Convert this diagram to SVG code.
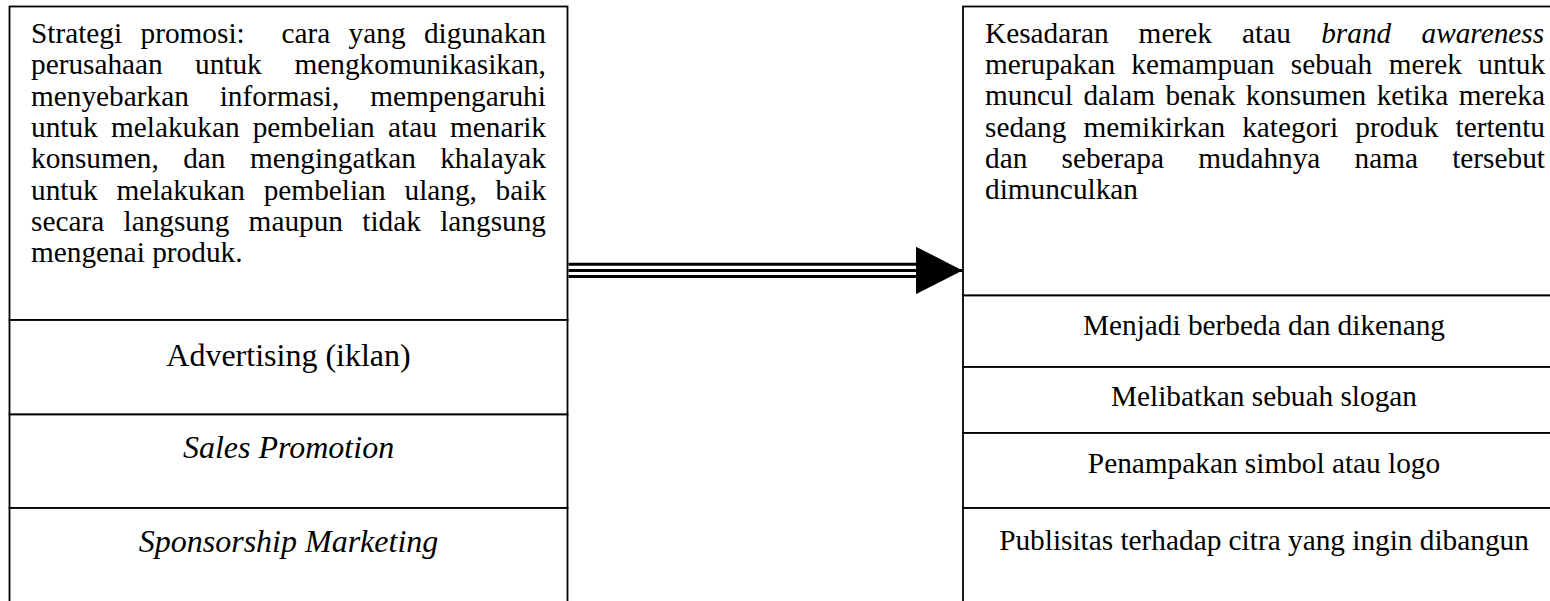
<svg xmlns="http://www.w3.org/2000/svg" width="1550" height="601" viewBox="0 0 1550 601">
  <style>
    .cell { fill: #ffffff; stroke: #000000; stroke-width: 1.8; }
    .body { font-family: "Liberation Serif", "Times New Roman", serif; font-size: 29.3px; fill: #000000; }
    .lbl { font-family: "Liberation Serif", "Times New Roman", serif; font-size: 32px; fill: #000000; text-anchor: middle; }
    .lblr { font-family: "Liberation Serif", "Times New Roman", serif; font-size: 29.3px; fill: #000000; text-anchor: middle; }
    .it { font-style: italic; }
    .conn { stroke: #000000; stroke-width: 3; fill: none; }
  </style>
  <defs>
    <marker id="head" viewBox="0 0 47 48" refX="47" refY="24" markerWidth="47" markerHeight="48" markerUnits="userSpaceOnUse" orient="auto">
      <polygon points="0,0 47,24 0,48" fill="#000000"/>
    </marker>
  </defs>
  <rect x="0" y="0" width="1550" height="601" fill="#ffffff"/>

  <g id="strategi-promosi">
    <rect class="cell" x="9.5" y="6.5" width="558" height="313.5"/>
    <text class="body" y="43"><tspan x="31">Strategi</tspan><tspan x="140.5">promosi:</tspan><tspan x="281.4">cara</tspan><tspan x="348.6">yang</tspan><tspan x="423.9">digunakan</tspan></text>
    <text class="body" y="74.3"><tspan x="31">perusahaan</tspan><tspan x="195">untuk</tspan><tspan x="294.5">mengkomunikasikan,</tspan></text>
    <text class="body" y="105.6"><tspan x="31">menyebarkan</tspan><tspan x="219.7">informasi,</tspan><tspan x="370.2">mempengaruhi</tspan></text>
    <text class="body" y="136.9"><tspan x="31">untuk</tspan><tspan x="111">melakukan</tspan><tspan x="252.7">pembelian</tspan><tspan x="388">atau</tspan><tspan x="450">menarik</tspan></text>
    <text class="body" y="168.2"><tspan x="31">konsumen,</tspan><tspan x="183.2">dan</tspan><tspan x="249.9">mengingatkan</tspan><tspan x="440.2">khalayak</tspan></text>
    <text class="body" y="199.5"><tspan x="31">untuk</tspan><tspan x="116.4">melakukan</tspan><tspan x="263.7">pembelian</tspan><tspan x="404.5">ulang,</tspan><tspan x="495.6">baik</tspan></text>
    <text class="body" y="230.8"><tspan x="31">secara</tspan><tspan x="123.5">langsung</tspan><tspan x="248.6">maupun</tspan><tspan x="362.3">tidak</tspan><tspan x="440.2">langsung</tspan></text>
    <text class="body" x="31" y="262.1">mengenai produk.</text>
  </g>

  <g id="advertising">
    <rect class="cell" x="9.5" y="320" width="558" height="94.5"/>
    <text class="lbl" x="288.5" y="366">Advertising (iklan)</text>
  </g>

  <g id="sales-promotion">
    <rect class="cell" x="9.5" y="414.5" width="558" height="93.5"/>
    <text class="lbl it" x="288.5" y="458">Sales Promotion</text>
  </g>

  <g id="sponsorship-marketing">
    <rect class="cell" x="9.5" y="508" width="558" height="103"/>
    <text class="lbl it" x="288.5" y="552">Sponsorship Marketing</text>
  </g>

  <g id="brand-awareness">
    <rect class="cell" x="963" y="6.5" width="610" height="289"/>
    <text class="body" y="43"><tspan x="985">Kesadaran</tspan><tspan x="1138.6">merek</tspan><tspan x="1242">atau</tspan><tspan x="1321.2" class="it">brand</tspan><tspan x="1421.5" class="it">awareness</tspan></text>
    <text class="body" y="74.2"><tspan x="985">merupakan</tspan><tspan x="1131.3">kemampuan</tspan><tspan x="1290.8">sebuah</tspan><tspan x="1388.7">merek</tspan><tspan x="1478.3">untuk</tspan></text>
    <text class="body" y="105.4"><tspan x="985">muncul</tspan><tspan x="1083.4">dalam</tspan><tspan x="1165.4">benak</tspan><tspan x="1245.8">konsumen</tspan><tspan x="1376.7">ketika</tspan><tspan x="1458.8">mereka</tspan></text>
    <text class="body" y="136.6"><tspan x="985">sedang</tspan><tspan x="1083.5">memikirkan</tspan><tspan x="1242.2">kategori</tspan><tspan x="1355.3">produk</tspan><tspan x="1455.5">tertentu</tspan></text>
    <text class="body" y="167.8"><tspan x="985">dan</tspan><tspan x="1061.5">seberapa</tspan><tspan x="1198.3">mudahnya</tspan><tspan x="1354.5">nama</tspan><tspan x="1452.2">tersebut</tspan></text>
    <text class="body" x="985" y="199">dimunculkan</text>
  </g>

  <g id="berbeda-dikenang">
    <rect class="cell" x="963" y="295.5" width="610" height="71.5"/>
    <text class="lblr" x="1264" y="335">Menjadi berbeda dan dikenang</text>
  </g>

  <g id="slogan">
    <rect class="cell" x="963" y="367" width="610" height="66"/>
    <text class="lblr" x="1264" y="406">Melibatkan sebuah slogan</text>
  </g>

  <g id="simbol-logo">
    <rect class="cell" x="963" y="433" width="610" height="75"/>
    <text class="lblr" x="1264" y="473">Penampakan simbol atau logo</text>
  </g>

  <g id="publisitas">
    <rect class="cell" x="963" y="508" width="610" height="103"/>
    <text class="lblr" x="1264" y="550">Publisitas terhadap citra yang ingin dibangun</text>
  </g>

  <g id="connectors">
    <line class="conn" x1="568.5" y1="264.2" x2="917" y2="264.2"/>
    <line class="conn" x1="568.5" y1="270.4" x2="962.5" y2="270.4" marker-end="url(#head)"/>
    <line class="conn" x1="568.5" y1="276.6" x2="917" y2="276.6"/>
  </g>
</svg>
